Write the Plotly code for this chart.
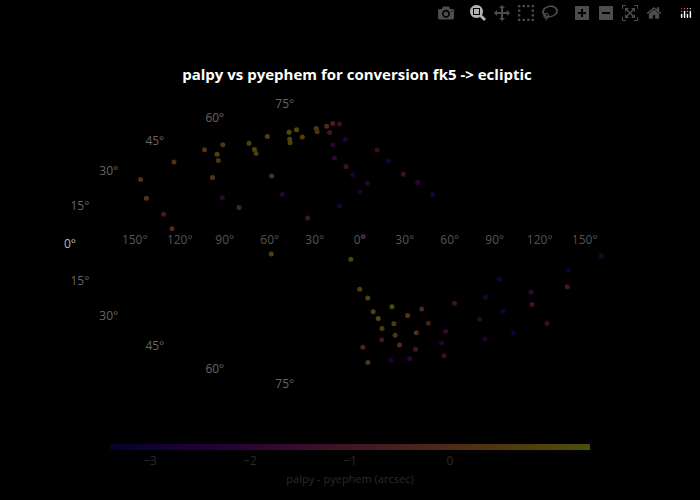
import numpy as np
import plotly.graph_objects as go
from plotly.colors import sample_colorscale

# star positions (deg) and palpy - pyephem difference
lon = [140, 130, 122, 115, 108, 102, 95, 90, 85, 80, 76, 70, 66, 60, 55, 50, 45, 40,
       35, 30, 25, 20, 15, 10, 5, 0, -5, -15, -22, -30, -38, -45, 150, 135, 118, 100,
       85, 72, 60, 48, 30, 12, -2,
       0, -5, -9, -13, -17, -21, -25, -29, -33, -37, -41, -45, -50, -55, -61, -67,
       -73, -79, -85, -91, -97, -105, -113, -121, -129, -137, 5, -3, -11, -19, -39,
       -59, -83, -107, -125, -145, 110, 50]
lat = [40, 48, 52, 47, 44, 55, 60, 52, 50, 64, 66, 60, 58, 62, 68, 66, 70, 72,
       66, 72, 58, 50, 62, 45, 40, 30, 35, 55, 48, 40, 35, 28, 30, 22, 15, 35,
       25, 20, 38, 28, 15, 22, 5,
       -25, -30, -38, -42, -48, -35, -45, -52, -40, -58, -36, -50, -44, -60, -32, -48,
       -55, -28, -40, -62, -35, -50, -30, -45, -20, -38, -8, -60, -70, -55, -68,
       -66, -18, -24, -12, -5, 8, -5]
diff = [0.2, 0.5, 0.6, 0.9, 0.4, 0.7, 0.8, 1.0, 0.6, 1.3, 1.2, 1.0, 0.9, 0.8, 0.6, 0.3, 0.1, -0.5,
        -1.0, -1.5, -2.0, -1.8, -2.4, -1.2, -2.5, -2.8, -2.2, -1.6, -2.9, -1.4, -2.0, -2.6, 0.3, 0.6, -0.8, 0.5,
        -1.9, -0.4, 0.2, -2.3, -1.1, -2.7, -1.7,
        0.8, 1.0, 0.9, 1.2, 0.7, 1.3, 0.6, 0.4, 0.5, 0.1, -0.3, 0.2, -0.6, -1.0, -1.4, -1.8,
        -2.2, -2.6, -2.0, -1.5, -2.8, -2.4, -1.2, -2.9, -0.8, -1.6, 0.9, -0.2, 0.3, -1.1, -2.5,
        -2.1, -2.7, -1.9, -3.0, -2.3, 0.0, 0.7]

lat_ticks = [-75, -60, -45, -30, -15, 0, 15, 30, 45, 60, 75]
lon_ticks = [150, 120, 90, 60, 30, 0, -30, -60, -90, -120, -150]


def hammer(lo, la):
    lo = np.radians(np.asarray(lo, float))
    la = np.radians(np.asarray(la, float))
    d = np.sqrt(1 + np.cos(la) * np.cos(lo / 2))
    x = -2 * np.sqrt(2) * np.cos(la) * np.sin(lo / 2) / d
    y = np.sqrt(2) * np.sin(la) / d
    return x, y


# dimmed plasma so marks and bar look faded on black
dim = []
for i, c in enumerate(sample_colorscale("Plasma", list(np.linspace(0, 1, 11)), colortype="tuple")):
    dim.append([i / 10, "rgb(%d,%d,%d)" % tuple(int(v * 255 * 0.32) for v in c)])

px, py = hammer(lon, lat)
lx, ly = hammer([179.9] * len(lat_ticks), lat_ticks)
ox = np.array(lon_ticks) * -1.5 / 102.5
oy = np.full(len(lon_ticks), 4 / 102.5)
lat_col = ["#bbb" if v == 0 else "#666" for v in lat_ticks]

fig = go.Figure()
fig.add_trace(go.Scatter(
    x=px, y=py, mode="markers",
    marker=dict(size=5, color=diff, colorscale=dim, cmin=-3.4, cmax=1.4,
                colorbar=dict(orientation="h", x=0.5, xanchor="center", y=0.07, yanchor="middle",
                              lenmode="pixels", len=500, thickness=6,
                              tickvals=[-3, -2, -1, 0], ticktext=["−3", "−2", "−1", "0"],
                              tickfont=dict(color="#2a2a2a", size=12), outlinewidth=0,
                              title=dict(text="palpy - pyephem (arcsec)", side="bottom",
                                         font=dict(color="#2a2a2a", size=11)))),
    showlegend=False))
fig.add_trace(go.Scatter(
    x=lx, y=ly, mode="text", text=[f"{abs(v)}°" for v in lat_ticks],
    textposition="middle center", textfont=dict(color=lat_col, size=12),
    showlegend=False, hoverinfo="skip"))
fig.add_trace(go.Scatter(
    x=ox, y=oy, mode="text", text=[f"{abs(v)}°" for v in lon_ticks],
    textfont=dict(color="#555", size=12), showlegend=False, hoverinfo="skip"))

fig.update_layout(
    width=700, height=500, paper_bgcolor="black", plot_bgcolor="black",
    title=dict(text="<b>palpy vs pyephem for conversion fk5 -> ecliptic</b>", x=0.51, y=0.85,
               yanchor="middle", font=dict(color="white", size=15)),
    margin=dict(l=0, r=0, t=0, b=0),
    xaxis=dict(visible=False, range=[-3.51, 3.32]),
    yaxis=dict(visible=False, range=[-2.49, 2.39]),
)
fig.write_html("out.html",
               post_script="document.body.style.margin='0';document.body.style.background='black';")
